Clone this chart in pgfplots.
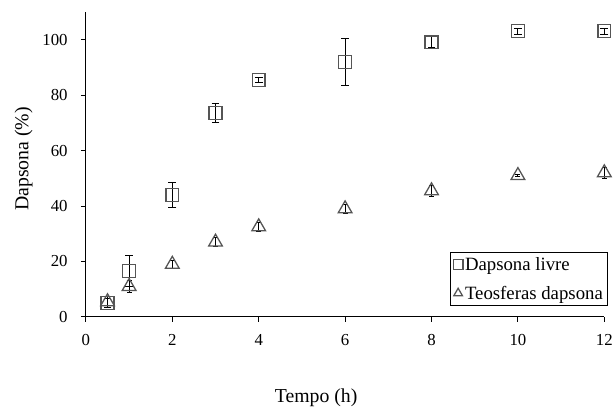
\documentclass[border=0pt]{standalone}
\usepackage{pgfplots}
\pgfplotsset{compat=1.18}
\usepackage{fontspec}
\setmainfont{Liberation Serif}
\definecolor{mk}{HTML}{555555}

\begin{document}
\begin{tikzpicture}[font=\fontsize{20}{24}\selectfont]
\begin{axis}[
  width=525pt, height=309pt, scale only axis,
  xmin=0, xmax=12, ymin=0, ymax=110,
  xtick={0,2,...,12}, ytick={0,20,...,100},
  axis x line*=bottom, axis y line*=left,
  axis line style={line width=1pt},
  tick align=outside, major tick length=5pt,
  tick style={black, line width=1pt},
  /pgf/number format/assume math mode=true,
  ticklabel style={font=\fontsize{17}{20}\selectfont},
  xticklabel style={yshift=-9pt},
  yticklabel style={xshift=-10pt},
  xlabel={Tempo (h)}, ylabel={Dapsona (\%)},
  label style={font=\fontsize{20}{24}\selectfont},
  xlabel style={at={(axis description cs:0.444,-0.265)}, anchor=center},
  ylabel style={at={(axis description cs:-0.12,0.518)}, anchor=center},
  legend style={at={(axis description cs:1,0.036)}, anchor=south east, xshift=4pt,
    draw=black, line width=1pt, font=\fontsize{19}{22}\selectfont,
    row sep=10pt, inner xsep=3pt, inner ysep=3pt},
  legend cell align=left,
  legend image code/.code={\draw[#1,only marks,mark size=5pt] plot coordinates {(0.15cm,0cm)};},
  clip=false,
]
\addplot+[only marks, mark=square, mark size=6.5pt, color=mk, mark options={line width=1.3pt, fill=none, draw=mk},
  error bars/.cd, y dir=both, y explicit,
  error bar style={black, line width=0.9pt},
  error mark options={rotate=90, mark size=4pt, black, line width=0.9pt}]
coordinates {
(0.5,5) +- (0,1.5)
(1,16.5) +- (0,5.5)
(2,44) +- (0,4.5)
(3,73.5) +- (0,3.5)
(4,85.5) +- (0,1)
(6,92) +- (0,8.5)
(8,99) +- (0,2)
(10,103) +- (0,1)
(12,103) +- (0,1)
};
\addlegendentry{Dapsona livre}
\addplot+[only marks, mark=triangle, mark size=8pt, color=mk, mark options={line width=1.3pt, fill=none, draw=mk},
  error bars/.cd, y dir=both, y explicit,
  error bar style={black, line width=0.9pt},
  error mark options={rotate=90, mark size=2.5pt, black, line width=0.9pt}]
coordinates {
(0.5,5.5) +- (0,2)
(1,11) +- (0,2)
(2,19) +- (0,1.5)
(3,27) +- (0,1.5)
(4,32.5) +- (0,1.5)
(6,39) +- (0,1.5)
(8,45.5) +- (0,2)
(10,51) +- (0,0.5)
(12,52) +- (0,2)
};
\addlegendentry{Teosferas dapsona}
\end{axis}
\path ([shift={(-87pt,-88pt)}]current axis.south west) rectangle ([shift={(4pt,12pt)}]current axis.north east);
\end{tikzpicture}
\end{document}
